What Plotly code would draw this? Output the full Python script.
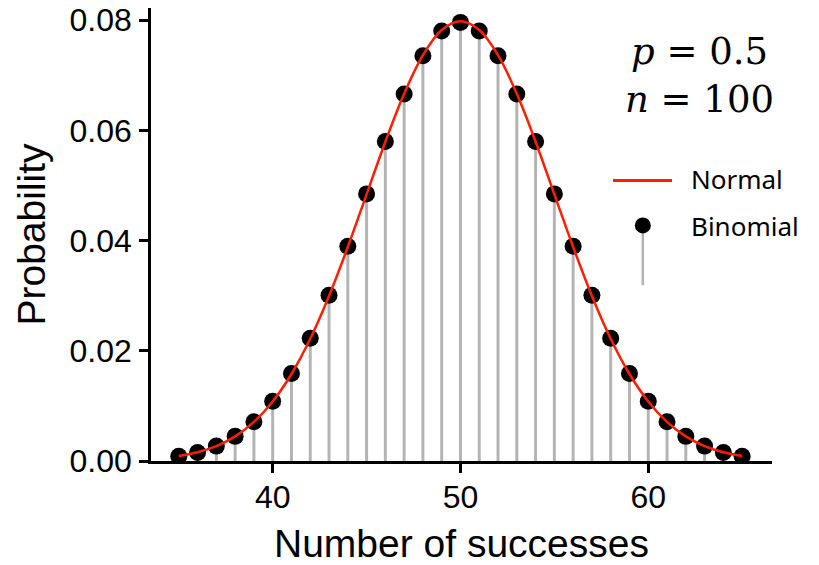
import plotly.graph_objects as go

# Number of successes k and the binomial probabilities P(X = k), n = 100, p = 0.5
successes = [35, 36, 37, 38, 39, 40, 41, 42, 43, 44, 45, 46, 47, 48, 49, 50,
             51, 52, 53, 54, 55, 56, 57, 58, 59, 60, 61, 62, 63, 64, 65]
binomial_prob = [0.00086, 0.00156, 0.00270, 0.00447, 0.00711, 0.01084, 0.01587,
                 0.02229, 0.03007, 0.03895, 0.04847, 0.05796, 0.06659, 0.07353,
                 0.07803, 0.07959, 0.07803, 0.07353, 0.06659, 0.05796, 0.04847,
                 0.03895, 0.03007, 0.02229, 0.01587, 0.01084, 0.00711, 0.00447,
                 0.00270, 0.00156, 0.00086]

# Normal approximation (mean 50, sd 5) sampled along the same range
normal_x = [35, 36, 37, 38, 39, 40, 41, 42, 43, 44, 45, 46, 47, 48, 49, 50,
            51, 52, 53, 54, 55, 56, 57, 58, 59, 60, 61, 62, 63, 64, 65]
normal_pdf = [0.00089, 0.00158, 0.00271, 0.00447, 0.00709, 0.01080, 0.01579,
              0.02218, 0.02995, 0.03884, 0.04839, 0.05794, 0.06664, 0.07365,
              0.07821, 0.07979, 0.07821, 0.07365, 0.06664, 0.05794, 0.04839,
              0.03884, 0.02995, 0.02218, 0.01579, 0.01080, 0.00709, 0.00447,
              0.00271, 0.00158, 0.00089]

x_ticks = [40, 50, 60]
y_ticks = [0.00, 0.02, 0.04, 0.06, 0.08]

# Stem segments from the axis up to each probability
stem_x, stem_y = [], []
for k, pk in zip(successes, binomial_prob):
    stem_x += [k, k, None]
    stem_y += [0, pk, None]

STEM = "#b4b4b4"
RED = "#ff1e00"

fig = go.Figure()
fig.add_trace(go.Scatter(x=stem_x, y=stem_y, mode="lines",
                         line=dict(color=STEM, width=3), hoverinfo="skip",
                         showlegend=False))
fig.add_trace(go.Scatter(x=successes, y=binomial_prob, mode="markers",
                         marker=dict(color="black", size=17), name="Binomial",
                         showlegend=False))
fig.add_trace(go.Scatter(x=normal_x, y=normal_pdf, mode="lines",
                         line=dict(color=RED, width=2.5, shape="spline"),
                         name="Normal", showlegend=False))

axis_font = dict(family="Liberation Sans, Arial, sans-serif", size=32, color="black")
title_font = dict(family="Liberation Sans, Arial, sans-serif", size=39, color="black")

fig.update_layout(
    width=819, height=565,
    margin=dict(l=151, r=47, t=8, b=104),
    paper_bgcolor="white", plot_bgcolor="white",
    xaxis=dict(range=[33.52, 66.59], tickvals=x_ticks, showgrid=False,
               zeroline=False, showline=True, linecolor="black", linewidth=2.5,
               ticks="outside", ticklen=9, tickwidth=2.5, tickcolor="black",
               tickfont=axis_font, automargin=False, ticklabelstandoff=-3,
               title=dict(text="Number of successes", font=title_font, standoff=20)),
    yaxis=dict(range=[0, 0.0822], tickvals=y_ticks, tickformat=".2f",
               showgrid=False, zeroline=False, showline=True, linecolor="black",
               linewidth=2.5, ticks="outside", ticklen=9, tickwidth=2.5,
               tickcolor="black", tickfont=axis_font, ticklabelstandoff=1,
               automargin=False,
               title=dict(text="Probability", font=title_font, standoff=12)),
)

# Legend drawn by hand: a red line for the curve, a dot on a stem for the pmf
legend_font = dict(family="Noto Sans, Open Sans, sans-serif", size=26, color="black")
fig.add_shape(type="line", xref="paper", yref="paper",
              x0=0.744, x1=0.839, y0=0.619, y1=0.619,
              line=dict(color=RED, width=3))
fig.add_shape(type="line", xref="paper", yref="paper",
              x0=0.792, x1=0.792, y0=0.388, y1=0.520,
              line=dict(color=STEM, width=2.5))
fig.add_shape(type="circle", xref="paper", yref="paper",
              xsizemode="pixel", ysizemode="pixel",
              xanchor=0.792, yanchor=0.520, x0=-8, x1=8, y0=-8, y1=8,
              fillcolor="black", line=dict(color="black", width=0))
fig.add_annotation(xref="paper", yref="paper", x=0.866, y=0.623,
                   xanchor="left", yanchor="middle", text="Normal",
                   showarrow=False, font=legend_font)
fig.add_annotation(xref="paper", yref="paper", x=0.866, y=0.518,
                   xanchor="left", yanchor="middle", text="Binomial",
                   showarrow=False, font=legend_font)

# Parameters of the distribution
fig.add_annotation(xref="paper", yref="paper", x=0.884, y=0.852,
                   xanchor="center", yanchor="middle",
                   text="<i>p</i> = 0.5<br><i>n</i> = 100",
                   showarrow=False, align="center",
                   font=dict(family="DejaVu Serif, serif", size=37, color="black"))

fig.write_html("out.html")
